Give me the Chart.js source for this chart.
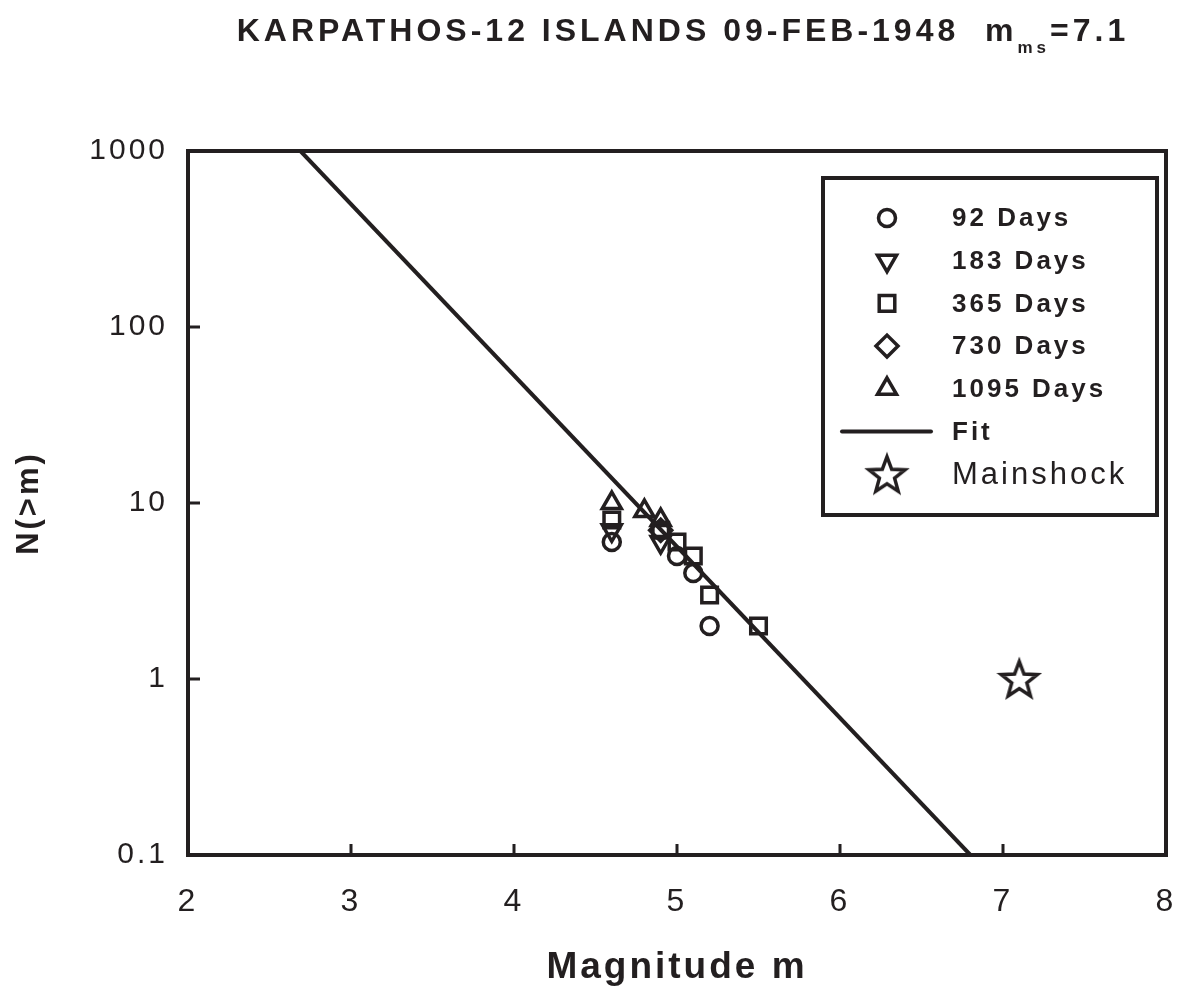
<!DOCTYPE html>
<html>
<head>
<meta charset="utf-8">
<title>Karpathos-12 Islands aftershocks</title>
<script src="https://cdn.jsdelivr.net/npm/chart.js@4/dist/chart.umd.min.js"></script>
<style>
  html, body { margin: 0; padding: 0; background: #fff; }
  canvas { display: block; }
</style>
</head>
<body>
<canvas id="chart" width="1178" height="995"></canvas>
<script>
// cumulative counts N(>m) per observation window
const mag92 = [4.6, 5.0, 5.1, 5.2];
const n92 = [6, 5, 4, 2];
const mag183 = [4.6, 4.9];
const n183 = [7, 6];
const mag365 = [4.6, 4.9, 5.0, 5.1, 5.2, 5.5];
const n365 = [8, 7, 6, 5, 3, 2];
const mag730 = [4.9];
const n730 = [7];
const mag1095 = [4.6, 4.8, 4.9];
const n1095 = [10, 9, 8];
const mainMag = [7.1];
const mainN = [1];
// ends of the Gutenberg-Richter fit line
const fitMag = [2.69, 6.8];
const fitN = [1000, 0.1];

const xTicks = [2, 3, 4, 5, 6, 7, 8];
const yTicks = [0.1, 1, 10, 100, 1000];

const INK = "#231f20";
const FONT = "'Liberation Sans', Arial, sans-serif";

const toPoints = (xs, ys) => xs.map((x, i) => ({ x: x, y: ys[i] }));

// five-pointed open star, used as a point image
const makeStar = (r) => {
  const c = document.createElement("canvas");
  const s = Math.ceil(r * 2 + 8);
  c.width = s;
  c.height = s;
  const g = c.getContext("2d");
  g.strokeStyle = INK;
  g.lineWidth = 3.5;
  g.lineJoin = "miter";
  g.beginPath();
  for (let i = 0; i < 10; i++) {
    const rad = i % 2 === 0 ? r : r * 0.42;
    const a = -Math.PI / 2 + (i * Math.PI) / 5;
    const px = s / 2 + rad * Math.cos(a);
    const py = s / 2 + 1.5 + rad * Math.sin(a);
    i === 0 ? g.moveTo(px, py) : g.lineTo(px, py);
  }
  g.closePath();
  g.stroke();
  return c;
};
const starImg = makeStar(19);

const marker = (label, data, style, radius, rotation) => ({
  label: label,
  data: data,
  showLine: false,
  pointStyle: style,
  pointRadius: radius,
  pointRotation: rotation || 0,
  pointBorderWidth: 3.5,
  pointBorderColor: INK,
  pointBackgroundColor: "rgba(0,0,0,0)",
  borderColor: INK,
  backgroundColor: "rgba(0,0,0,0)",
});

const datasets = [
  marker("92 Days", toPoints(mag92, n92), "circle", 8.5),
  marker("183 Days", toPoints(mag183, n183), "triangle", 11, 180),
  marker("365 Days", toPoints(mag365, n365), "rect", 11),
  marker("730 Days", toPoints(mag730, n730), "rectRot", 11),
  marker("1095 Days", toPoints(mag1095, n1095), "triangle", 11),
  {
    label: "Fit",
    data: toPoints(fitMag, fitN),
    showLine: true,
    borderColor: INK,
    borderWidth: 4,
    pointRadius: 0,
    fill: false,
  },
  marker("Mainshock", toPoints(mainMag, mainN), starImg, 19),
];

// title with subscript, inward ticks, frame and boxed legend
const decor = {
  id: "decor",
  beforeDraw(chart) {
    chart.ctx.letterSpacing = "3px";
  },
  afterDraw(chart) {
    const ctx = chart.ctx;
    const area = chart.chartArea;
    const xs = chart.scales.x;
    const ys = chart.scales.y;
    ctx.save();
    ctx.strokeStyle = INK;
    ctx.fillStyle = INK;

    // frame
    ctx.lineWidth = 4;
    ctx.strokeRect(area.left, area.top, area.right - area.left, area.bottom - area.top);

    // inward ticks
    ctx.lineWidth = 3;
    ctx.beginPath();
    yTicks.forEach((v) => {
      const y = ys.getPixelForValue(v);
      ctx.moveTo(area.left, y);
      ctx.lineTo(area.left + 12, y);
    });
    xTicks.forEach((v) => {
      const x = xs.getPixelForValue(v);
      ctx.moveTo(x, area.bottom);
      ctx.lineTo(x, area.bottom - 11);
    });
    ctx.stroke();

    // title
    const main = "KARPATHOS-12 ISLANDS 09-FEB-1948  m";
    const sub = "ms";
    const tail = "=7.1";
    const big = "bold 32px " + FONT;
    const small = "bold 17px " + FONT;
    ctx.letterSpacing = "4px";
    ctx.font = big;
    const wMain = ctx.measureText(main).width;
    const wTail = ctx.measureText(tail).width;
    ctx.font = small;
    const wSub = ctx.measureText(sub).width;
    let tx = 683 - (wMain + wSub + wTail) / 2;
    ctx.textAlign = "left";
    ctx.textBaseline = "alphabetic";
    ctx.font = big;
    ctx.fillText(main, tx, 41);
    tx += wMain;
    ctx.font = small;
    ctx.fillText(sub, tx, 53);
    tx += wSub;
    ctx.font = big;
    ctx.fillText(tail, tx, 41);
    ctx.letterSpacing = "3px";

    // legend box
    const bx = area.right - 9 - 334;
    const by = area.top + 27;
    ctx.lineWidth = 4;
    ctx.strokeRect(bx, by, 334, 337);

    const mx = bx + 64;
    const txt = bx + 129;
    ctx.textBaseline = "middle";
    chart.data.datasets.forEach((ds, i) => {
      const y = by + 40 + i * 42.7;
      if (ds.label === "Fit") {
        ctx.lineWidth = 4;
        ctx.lineCap = "round";
        ctx.beginPath();
        ctx.moveTo(bx + 19, y);
        ctx.lineTo(bx + 108, y);
        ctx.stroke();
      } else {
        ctx.fillStyle = "rgba(0,0,0,0)";
        ctx.lineWidth = 3.5;
        Chart.helpers.drawPoint(ctx, {
          pointStyle: ds.pointStyle,
          radius: ds.pointRadius,
          rotation: ds.pointRotation,
          borderWidth: 3.5,
        }, mx, y);
        ctx.fillStyle = INK;
      }
      ctx.font = ds.label === "Mainshock" ? "31px " + FONT : "bold 26px " + FONT;
      ctx.fillText(ds.label, txt, y + 1);
    });
    ctx.restore();
  },
};

new Chart(document.getElementById("chart"), {
  type: "scatter",
  data: { datasets: datasets },
  options: {
    responsive: false,
    animation: false,
    events: [],
    layout: { autoPadding: false, padding: { top: 151, right: 12, left: 0, bottom: 0 } },
    plugins: {
      legend: { display: false },
      tooltip: { enabled: false },
    },
    scales: {
      x: {
        type: "linear",
        min: 2,
        max: 8,
        afterFit: (scale) => {
          scale.height = 140;
          scale.paddingLeft = 0;
          scale.paddingRight = 0;
        },
        afterBuildTicks: (scale) => { scale.ticks = xTicks.map((v) => ({ value: v })); },
        // transparent tick marks only push the labels down
        grid: { display: true, drawOnChartArea: false, drawTicks: true, tickLength: 28, color: "rgba(0,0,0,0)" },
        border: { display: false },
        ticks: {
          color: INK,
          padding: 0,
          font: { size: 32, family: FONT },
        },
        title: {
          display: true,
          text: "Magnitude m",
          color: INK,
          padding: { top: 0, bottom: 5 },
          font: { size: 37, weight: "bold", family: FONT },
        },
      },
      y: {
        type: "logarithmic",
        min: 0.1,
        max: 1000,
        afterFit: (scale) => { scale.width = 188; },
        afterBuildTicks: (scale) => { scale.ticks = yTicks.map((v) => ({ value: v })); },
        grid: { display: false, drawTicks: false },
        border: { display: false },
        ticks: {
          color: INK,
          padding: 20,
          font: { size: 30, family: FONT },
          callback: (v) => String(v),
        },
        title: {
          display: true,
          text: "N(>m)",
          color: INK,
          padding: { top: 11, bottom: 0 },
          font: { size: 31, weight: "bold", family: FONT },
        },
      },
    },
  },
  plugins: [decor],
});
</script>
</body>
</html>
